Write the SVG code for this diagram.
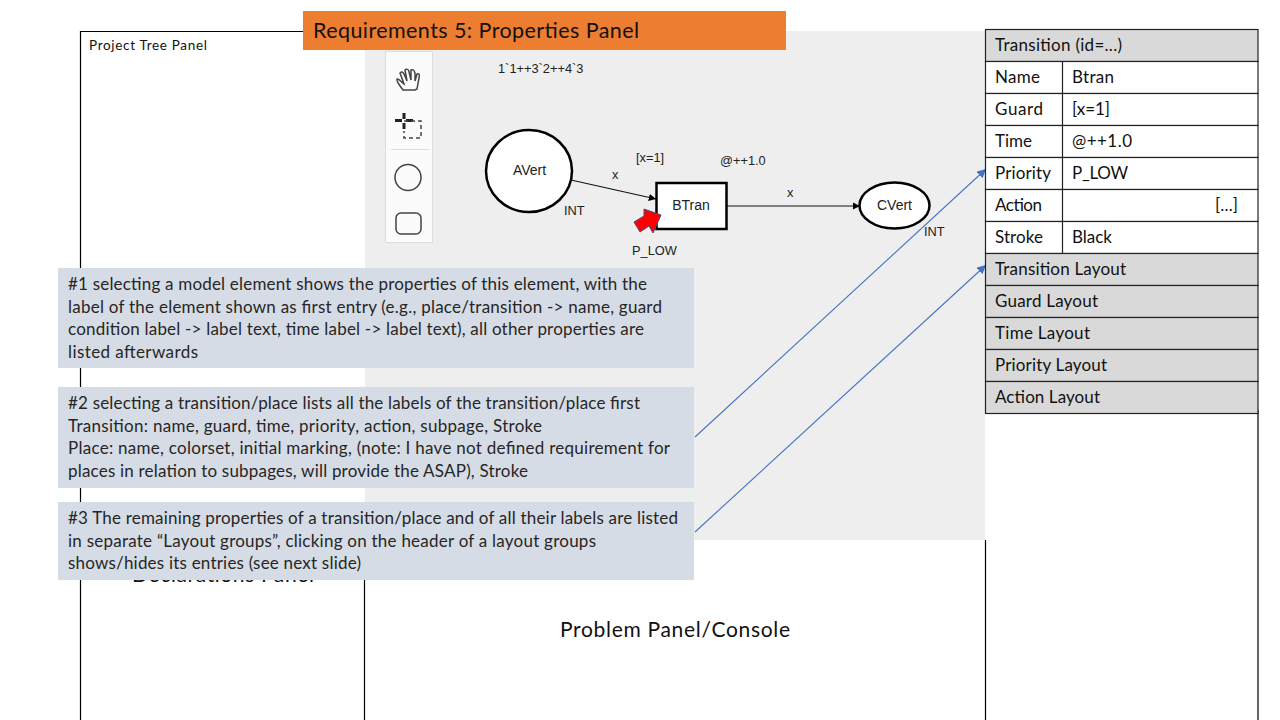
<svg xmlns="http://www.w3.org/2000/svg" width="1280" height="720" viewBox="0 0 1280 720">
<defs>
<style>
text{font-family:"Lato","Noto Sans",sans-serif;fill:#111}
.a{font-family:"Liberation Sans",Arial,sans-serif;font-size:12.8px;fill:#222}
.m{font-size:14px}
.n{font-size:17px}
.t{font-size:17px;fill:#262626}
.b{fill:#d6dce5}
.c{fill:#fff;stroke:#222;stroke-width:1.2}
.h{fill:#d9d9d9;stroke:#222;stroke-width:1.2}
.e{fill:#fff;stroke:#000;stroke-width:2.5}
.i{fill:none;stroke:#444;stroke-width:1.5}
.w{fill:none;stroke:#000;stroke-width:1.2}
</style>
<marker id="k" markerWidth="7" markerHeight="7" refX="6" refY="3" orient="auto"><path d="M0 0L6 3L0 6z" fill="#000"/></marker>
<marker id="u" markerWidth="9" markerHeight="9" refX="8" refY="4" orient="auto"><path d="M0 0L8 4L0 8z" fill="#4472c4"/></marker>
</defs>
<rect width="1280" height="720" fill="#fff"/>
<g id="panels">
<rect x="365" y="31" width="620" height="509" fill="#eee"/>
<path class="w" d="M80.500 720V31.500H365M364.500 540V720M985.500 540V720M1258 410V720"/>
<text x="89" y="50" style="font-size:13.500px" textLength="118">Project Tree Panel</text>
<text x="132" y="582" style="font-size:21px" textLength="182">Declarations Panel</text>
<text x="560" y="637" style="font-size:21px" textLength="230">Problem Panel/Console</text>
</g>
<g id="toolbar">
<rect x="385.500" y="51.500" width="47" height="191" fill="#fbfbfb" stroke="#ddd"/>
<path d="M391 149.500H429" stroke="#ddd"/>
<path class="i" d="M403 90C400 86 396 81 397 79C399 78 402 83 404 84L400 73C401 71 403 72 404 74L407 81L405 70C407 68 409 70 409 72L411 80L411 70C413 69 414 70 415 73L415 81L417 74C419 73 420 75 419 78L417 89L415 90Z"/>
<path d="M395 120.500H402M406 120.500H413M404 113V119M404 123V129" stroke="#222" stroke-width="3" fill="none"/>
<path d="M404 121H421V138H404V131" fill="none" stroke="#444" stroke-width="1.500" stroke-dasharray="4 3"/>
<circle class="i" cx="408" cy="177.500" r="13"/>
<rect class="i" x="396" y="213" width="25" height="21" rx="5"/>
</g>
<g id="connectors">
<path d="M571 180L656 199" stroke="#111" stroke-width="1.200" fill="none" marker-end="url(#k)"/>
<path d="M727 206H860" stroke="#111" stroke-width="1.200" fill="none" marker-end="url(#k)"/>
<path d="M695 437L986 169" stroke="#4472c4" stroke-width="1.100" fill="none" marker-end="url(#u)"/>
<path d="M695 532L986 265" stroke="#4472c4" stroke-width="1.100" fill="none" marker-end="url(#u)"/>
</g>
<g id="AVert"><ellipse class="e" cx="529" cy="171" rx="43" ry="41"/><text class="a m" x="529.500" y="175" text-anchor="middle">AVert</text></g>
<g id="BTran"><rect class="e" x="656.500" y="183" width="70" height="46"/><text class="a m" x="691" y="210" text-anchor="middle">BTran</text></g>
<g id="CVert"><ellipse class="e" cx="894.500" cy="205.500" rx="35" ry="23"/><text class="a m" x="894.500" y="210" text-anchor="middle">CVert</text></g>
<g id="labels">
<text class="a" x="498" y="73">1`1++3`2++4`3</text>
<text class="a" x="612" y="179">x</text>
<text class="a" x="564" y="215">INT</text>
<text class="a" x="636" y="162">[x=1]</text>
<text class="a" x="720" y="165">@++1.0</text>
<text class="a" x="787" y="197">x</text>
<text class="a" x="924" y="236">INT</text>
<text class="a" x="632" y="255">P_LOW</text>
</g>
<g id="pointer"><path d="M644 209L661 215L653 233L649 226L640 232L634 222L644 216Z" fill="#f00" stroke="#4b4a8c"/></g>
<g id="title"><rect x="303" y="11" width="483" height="39" fill="#ed7d31"/><text x="313" y="38" style="font-size:21.500px" textLength="326">Requirements 5: Properties Panel</text></g>
<g id="note1"><rect class="b" x="58" y="268" width="636" height="100"/>
<text class="t" x="68" y="290" textLength="579">#1 selecting a model element shows the properties of this element, with the</text>
<text class="t" x="68" y="313" textLength="594">label of the element shown as first entry (e.g., place/transition -&gt; name, guard</text>
<text class="t" x="68" y="335" textLength="576">condition label -&gt; label text, time label -&gt; label text), all other properties are</text>
<text class="t" x="68" y="358" textLength="130">listed afterwards</text></g>
<g id="note2"><rect class="b" x="58" y="387" width="636" height="101"/>
<text class="t" x="68" y="409" textLength="572">#2 selecting a transition/place lists all the labels of the transition/place first</text>
<text class="t" x="68" y="432" textLength="474">Transition: name, guard, time, priority, action, subpage, Stroke</text>
<text class="t" x="68" y="454" textLength="602">Place: name, colorset, initial marking, (note: I have not defined requirement for</text>
<text class="t" x="68" y="477" textLength="460">places in relation to subpages, will provide the ASAP), Stroke</text></g>
<g id="note3"><rect class="b" x="58" y="502" width="636" height="78"/>
<text class="t" x="68" y="524" textLength="610">#3 The remaining properties of a transition/place and of all their labels are listed</text>
<text class="t" x="68" y="547" textLength="528">in separate “Layout groups”, clicking on the header of a layout groups</text>
<text class="t" x="68" y="569" textLength="293">shows/hides its entries (see next slide)</text></g>
<g id="properties">
<rect class="h" x="985.500" y="29.500" width="272.500" height="32"/><text class="n" x="995" y="51" textLength="127">Transition (id=...)</text>
<rect class="c" x="985.500" y="61.500" width="272.500" height="32"/><text class="n" x="995" y="83" textLength="45">Name</text><text class="n" x="1072" y="83" textLength="42">Btran</text>
<rect class="c" x="985.500" y="93.500" width="272.500" height="32"/><text class="n" x="995" y="115" textLength="48">Guard</text><text class="n" x="1072" y="115" textLength="38">[x=1]</text>
<rect class="c" x="985.500" y="125.500" width="272.500" height="32"/><text class="n" x="995" y="147" textLength="37">Time</text><text class="n" x="1072" y="147" textLength="60">@++1.0</text>
<rect class="c" x="985.500" y="157.500" width="272.500" height="32"/><text class="n" x="995" y="179" textLength="56">Priority</text><text class="n" x="1072" y="179" textLength="56">P_LOW</text>
<rect class="c" x="985.500" y="189.500" width="272.500" height="32"/><text class="n" x="995" y="211" textLength="47">Action</text><text class="n" x="1215" y="211" textLength="23">[...]</text>
<rect class="c" x="985.500" y="221.500" width="272.500" height="32"/><text class="n" x="995" y="243" textLength="48">Stroke</text><text class="n" x="1072" y="243" textLength="40">Black</text>
<path d="M1062.500 61.500V253.500" stroke="#222" stroke-width="1.200"/>
<rect class="h" x="985.500" y="253.500" width="272.500" height="32"/><text class="n" x="995" y="275" textLength="131">Transition Layout</text>
<rect class="h" x="985.500" y="285.500" width="272.500" height="32"/><text class="n" x="995" y="307" textLength="103">Guard Layout</text>
<rect class="h" x="985.500" y="317.500" width="272.500" height="32"/><text class="n" x="995" y="339" textLength="95">Time Layout</text>
<rect class="h" x="985.500" y="349.500" width="272.500" height="32"/><text class="n" x="995" y="371" textLength="112">Priority Layout</text>
<rect class="h" x="985.500" y="381.500" width="272.500" height="32"/><text class="n" x="995" y="403" textLength="105">Action Layout</text>
</g>
</svg>
